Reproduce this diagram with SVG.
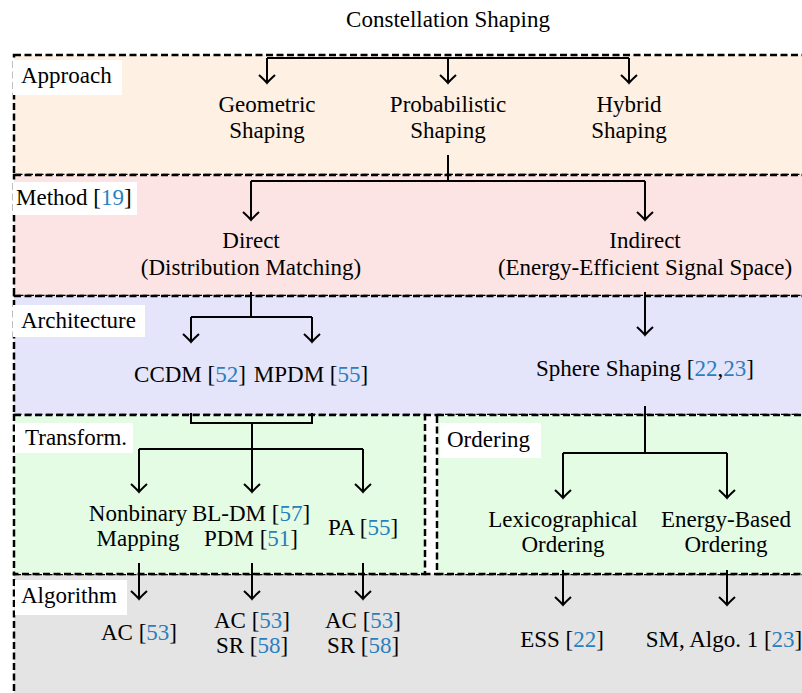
<svg xmlns="http://www.w3.org/2000/svg" width="802" height="693" viewBox="0 0 802 693" font-family="'Liberation Serif', 'DejaVu Serif', serif">
<style>
text{font-family:'Liberation Serif','DejaVu Serif',serif;font-size:23px;fill:#000}
.c{text-anchor:middle}
.r{fill:#2a7fbf}
.box{stroke:#000;stroke-width:2.5;stroke-dasharray:7 3.5}
.lab{fill:#fff}
.con path{fill:none;stroke:#000;stroke-width:2}
</style>
<defs>
<marker id="ah" markerUnits="userSpaceOnUse" markerWidth="20" markerHeight="20" viewBox="-10 -10 20 20" refX="0" refY="0" orient="auto">
<path d="M-8,-8 Q-2,-1.5 0,0 Q-2,1.5 -8,8" fill="none" stroke="#000" stroke-width="2"/>
</marker>
</defs>
<rect width="802" height="693" fill="#fff"/>
<g id="regions">
<rect class="box" x="14" y="55" width="800" height="120" fill="#fef0e3"/>
<rect class="box" x="14" y="175" width="800" height="121" fill="#fde4e4"/>
<rect class="box" x="14" y="296" width="800" height="119" fill="#e4e4fb"/>
<rect class="box" x="14" y="574" width="800" height="130" fill="#e4e4e4"/>
<rect class="box" x="14" y="415" width="411" height="159" fill="#e4fce4"/>
<rect class="box" x="437" y="415" width="370" height="159" fill="#e4fce4"/>
</g>
<g id="labels">
<rect class="lab" x="13" y="60" width="109" height="35"/><text x="21" y="83">Approach</text>
<rect class="lab" x="13" y="182" width="124" height="33"/><text x="16" y="205">Method [<tspan class="r">19</tspan>]</text>
<rect class="lab" x="13" y="305" width="132" height="32"/><text x="21" y="328">Architecture</text>
<rect class="lab" x="15" y="423" width="118" height="30"/><text x="25" y="445">Transform.</text>
<rect class="lab" x="440" y="423" width="101" height="35"/><text x="447" y="447">Ordering</text>
<rect class="lab" x="15" y="580" width="112" height="35"/><text x="21" y="603">Algorithm</text>
</g>
<g id="connectors" class="con">
<path d="M267,58 H629"/>
<path d="M267,58 V83" marker-end="url(#ah)"/>
<path d="M448,58 V83" marker-end="url(#ah)"/>
<path d="M629,58 V83" marker-end="url(#ah)"/>
<path d="M448,155 V181"/>
<path d="M251,181 H645"/>
<path d="M251,181 V220" marker-end="url(#ah)"/>
<path d="M645,181 V220" marker-end="url(#ah)"/>
<path d="M251,292 V317"/>
<path d="M191,317 H312"/>
<path d="M191,317 V342" marker-end="url(#ah)"/>
<path d="M312,317 V342" marker-end="url(#ah)"/>
<path d="M645,292 V335" marker-end="url(#ah)"/>
<path d="M191,413 V423 H312 V413"/>
<path d="M252,423 V449"/>
<path d="M139,449 H363"/>
<path d="M139,449 V492" marker-end="url(#ah)"/>
<path d="M252,449 V492" marker-end="url(#ah)"/>
<path d="M363,449 V492" marker-end="url(#ah)"/>
<path d="M139,563 V599" marker-end="url(#ah)"/>
<path d="M252,563 V599" marker-end="url(#ah)"/>
<path d="M363,563 V599" marker-end="url(#ah)"/>
<path d="M645,406 V453"/>
<path d="M563,453 H727"/>
<path d="M563,453 V498" marker-end="url(#ah)"/>
<path d="M727,453 V498" marker-end="url(#ah)"/>
<path d="M563,570 V605" marker-end="url(#ah)"/>
<path d="M727,570 V605" marker-end="url(#ah)"/>
</g>
<g id="title"><text class="c" x="448" y="27">Constellation Shaping</text></g>
<g id="geometric"><text class="c" x="267" y="112">Geometric</text><text class="c" x="267" y="138">Shaping</text></g>
<g id="probabilistic"><text class="c" x="448" y="112">Probabilistic</text><text class="c" x="448" y="138">Shaping</text></g>
<g id="hybrid"><text class="c" x="629" y="112">Hybrid</text><text class="c" x="629" y="138">Shaping</text></g>
<g id="direct"><text class="c" x="251" y="248">Direct</text><text class="c" x="251" y="275">(Distribution Matching)</text></g>
<g id="indirect"><text class="c" x="645" y="248">Indirect</text><text class="c" x="645" y="275">(Energy-Efficient Signal Space)</text></g>
<g id="ccdm"><text class="c" x="190" y="382">CCDM [<tspan class="r">52</tspan>]</text></g>
<g id="mpdm"><text class="c" x="311" y="382">MPDM [<tspan class="r">55</tspan>]</text></g>
<g id="sphere"><text class="c" x="645" y="376">Sphere Shaping [<tspan class="r">22</tspan>,<tspan class="r">23</tspan>]</text></g>
<g id="nonbinary"><text class="c" x="138" y="521">Nonbinary</text><text class="c" x="138" y="546">Mapping</text></g>
<g id="bldm"><text class="c" x="251" y="521">BL-DM [<tspan class="r">57</tspan>]</text><text class="c" x="251" y="546">PDM [<tspan class="r">51</tspan>]</text></g>
<g id="pa"><text class="c" x="363" y="535">PA [<tspan class="r">55</tspan>]</text></g>
<g id="lexico"><text class="c" x="563" y="527">Lexicographical</text><text class="c" x="563" y="552">Ordering</text></g>
<g id="energy"><text class="c" x="726" y="527">Energy-Based</text><text class="c" x="726" y="552">Ordering</text></g>
<g id="ac1"><text class="c" x="139" y="640">AC [<tspan class="r">53</tspan>]</text></g>
<g id="ac2"><text class="c" x="252" y="628">AC [<tspan class="r">53</tspan>]</text><text class="c" x="252" y="653">SR [<tspan class="r">58</tspan>]</text></g>
<g id="ac3"><text class="c" x="363" y="628">AC [<tspan class="r">53</tspan>]</text><text class="c" x="363" y="653">SR [<tspan class="r">58</tspan>]</text></g>
<g id="ess"><text class="c" x="562" y="647">ESS [<tspan class="r">22</tspan>]</text></g>
<g id="sm"><text class="c" x="724" y="647">SM, Algo. 1 [<tspan class="r">23</tspan>]</text></g>
</svg>
